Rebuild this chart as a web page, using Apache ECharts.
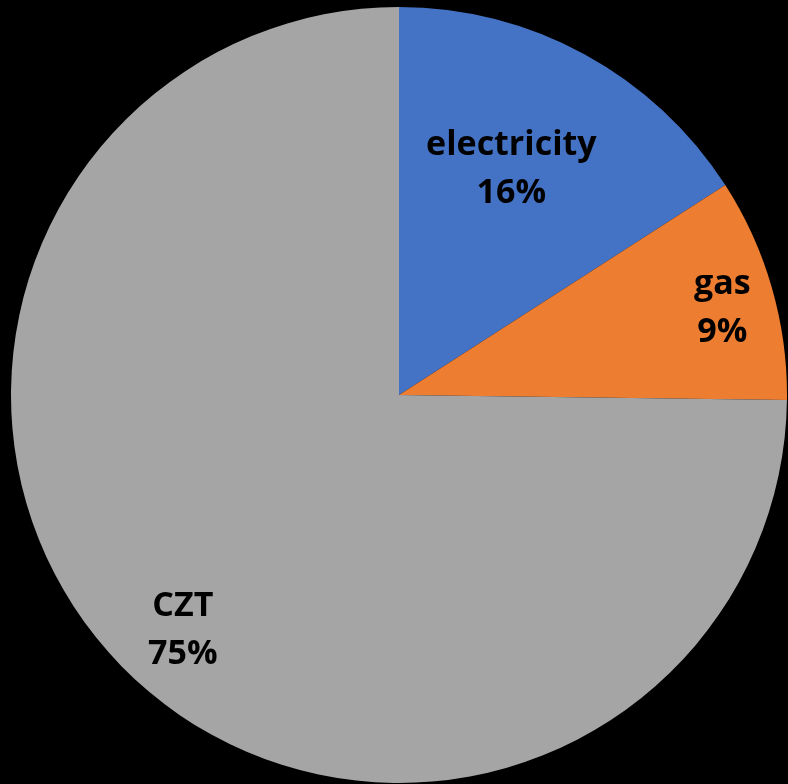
<!DOCTYPE html>
<html>
<head>
<meta charset="utf-8">
<style>
  html, body { margin: 0; padding: 0; background: #000; }
  #chart-container { width: 788px; height: 784px; }
</style>
<script src="https://cdn.jsdelivr.net/npm/echarts@6/dist/echarts.min.js"></script>
</head>
<body>
<div id="chart-container"></div>
<script>
var categories = ['electricity', 'gas', 'CZT'];
var shares = [15.9, 9.3, 74.8];
var sliceColors = ['#4472C4', '#ED7D31', '#A5A5A5'];

// label nudges from the default inside spot
var labelShift = [[18, -53], [134, -32], [-76, 97]];

var dom = document.getElementById('chart-container');
var myChart = echarts.init(dom, null, { renderer: 'canvas' });

var option = {
  backgroundColor: '#000000',
  animation: false,
  series: [
    {
      type: 'pie',
      center: [399, 395],
      radius: 388,
      startAngle: 90,
      clockwise: true,
      silent: true,
      label: {
        show: true,
        position: 'inner',
        formatter: function (p) {
          return p.name + '\n' + Math.round(p.percent) + '%';
        },
        color: '#000',
        fontFamily: 'Open Sans',
        fontWeight: 'bold',
        fontSize: 34,
        lineHeight: 48
      },
      labelLine: { show: false },
      itemStyle: { borderWidth: 0 },
      data: categories.map(function (c, i) {
        return {
          name: c,
          value: shares[i],
          itemStyle: { color: sliceColors[i] },
          label: { offset: labelShift[i] }
        };
      })
    }
  ]
};

myChart.setOption(option);
window.addEventListener('resize', myChart.resize);
</script>
</body>
</html>
